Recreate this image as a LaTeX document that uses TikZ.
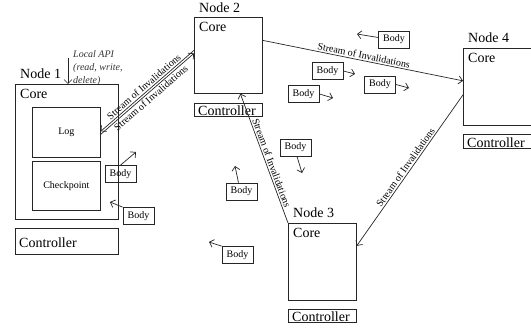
\documentclass[tikz,border=0pt]{standalone}
\usepackage{fontspec}
\setmainfont{Liberation Serif}
\usetikzlibrary{arrows.meta,calc}
\begin{document}
\begin{tikzpicture}[x=1pt,y=-1pt,
  box/.style={draw=black!85, line width=0.7pt, inner sep=0pt, anchor=north west},
  inbox/.style={box, font=\fontsize{10}{12}\selectfont},
  big/.style={font=\fontsize{14}{16}\selectfont, inner sep=0pt, anchor=base west},
  apitext/.style={font=\fontsize{10}{12}\selectfont\itshape, text=black!80, inner sep=0pt, anchor=base west},
  body/.style={draw=black!85, line width=0.7pt, font=\fontsize{10}{12}\selectfont, minimum width=31pt, minimum height=17pt, inner sep=0pt},
  arr/.style={draw=black!85, line width=0.7pt, -{Straight Barb[length=4pt,width=8pt]}},
  rarr/.style={draw=black!85, line width=0.7pt, {Straight Barb[length=4pt,width=8pt]}-},
  lbl/.style={font=\fontsize{10}{12}\selectfont, sloped, inner sep=1.5pt},
]
\useasboundingbox (0,0) rectangle (531,329);

% Node 1
\node[box, minimum width=103pt, minimum height=135pt] (n1core) at (15,84) {};
\node[inbox, minimum width=68pt, minimum height=50pt] (log) at (32,107) {Log};
\node[inbox, minimum width=68pt, minimum height=49pt] (ckpt) at (32,161) {Checkpoint};
\node[box, minimum width=103pt, minimum height=26pt] (n1ctrl) at (15,228) {};
\node[big] (n1lab) at (20,79) {Node 1};
\node[big] (n1coretxt) at (20,99) {Core};
\node[big] (n1ctrltxt) at (19,247) {Controller};

% Local API
\coordinate (api) at (68,58);
\draw[arr] (api) -- (api |- n1core.north);
\node[apitext] (api1) at (73,58) {Local API};
\node[apitext] (api2) at (73,71) {(read, write,};
\node[apitext] (api3) at (73,83.5) {delete)};

% Node 2
\node[box, minimum width=68pt, minimum height=76pt] (n2core) at (194,17) {};
\node[box, minimum width=68pt, minimum height=13pt] (n2ctrl) at (194,103) {};
\node[big] (n2lab) at (199,13) {Node 2};
\node[big] (n2coretxt) at (199,32) {Core};
\node[big] (n2ctrltxt) at (198,115.5) {Controller};

% Node 4
\node[box, minimum width=68pt, minimum height=77pt] (n4core) at (463,48) {};
\node[box, minimum width=68pt, minimum height=14pt] (n4ctrl) at (463,134) {};
\node[big] (n4lab) at (468,43) {Node 4};
\node[big] (n4coretxt) at (468,63) {Core};
\node[big] (n4ctrltxt) at (467,147.5) {Controller};

% Node 3
\node[box, minimum width=68pt, minimum height=77pt] (n3core) at (288,223) {};
\node[box, minimum width=68pt, minimum height=13pt] (n3ctrl) at (288,309) {};
\node[big] (n3lab) at (293,218) {Node 3};
\node[big] (n3coretxt) at (293,237.5) {Core};
\node[big] (n3ctrltxt) at (292,321.5) {Controller};

% Streams
\draw[rarr] ([yshift=1pt]log.east) -- ([yshift=5pt]n2core.west)
  node[lbl, midway, above] {Stream of Invalidations};
\draw[arr] ([yshift=-2pt]log.east) -- ([yshift=2pt]n2core.west)
  node[lbl, midway, below] {Stream of Invalidations};
\draw[arr] ([yshift=15pt]n2core.east) -- ([yshift=6pt]n4core.west)
  node[lbl, midway, above] {Stream of Invalidations};
\draw[rarr] ([xshift=12pt]n2core.south) -- (n3core.north west)
  node[lbl, pos=0.55, above] {Stream of Invalidations};
\draw[rarr] ([yshift=16pt]n3core.east) -- ([yshift=-8pt]n4core.west)
  node[lbl, midway, above] {Stream of Invalidations};

% Bodies
\node[body] (b1) at (120.5,174) {Body};
\node[body] (b2) at (138.5,216) {Body};
\node[body] (b3) at (241.5,191.5) {Body};
\node[body] (b4) at (237.5,255) {Body};
\node[body] (b5) at (295.5,147.5) {Body};
\node[body] (b6) at (394,39.5) {Body};
\node[body] (b7) at (327.5,71) {Body};
\node[body] (b8) at (380,84.5) {Body};
\node[body] (b9) at (303.5,94) {Body};

\coordinate (t1) at (136,152);
\coordinate (t2) at (110,202);
\coordinate (t3) at (235,166);
\coordinate (t4) at (209,242);
\coordinate (t5) at (302,173);
\coordinate (t6) at (357,34);
\coordinate (t7) at (355,74);
\coordinate (t8) at (409,88);
\coordinate (t9) at (333,98);

\draw[arr] (b1.north) -- (t1);
\draw[arr] (b2.north west) -- (t2);
\draw[arr] ([xshift=-3pt]b3.north) -- (t3);
\draw[arr] (b4.north west) -- (t4);
\draw[arr] ([xshift=1.5pt]b5.south) -- (t5);
\draw[arr] ([yshift=2pt]b6.west) -- (t6);
\draw[arr] (b7.east) -- (t7);
\draw[arr] (b8.east) -- (t8);
\draw[arr] (b9.east) -- (t9);
\end{tikzpicture}
\end{document}
